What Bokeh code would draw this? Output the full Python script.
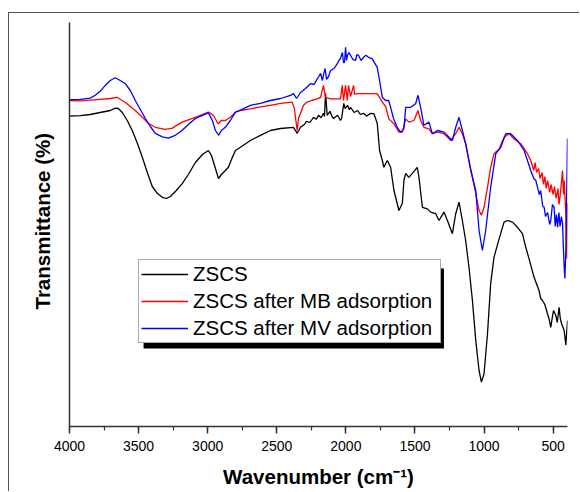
from bokeh.plotting import figure
from bokeh.models import (Range1d, SingleIntervalTicker, FixedTicker, Legend, LegendItem,
                          BoxAnnotation, Title)
from bokeh.embed import file_html
from bokeh.resources import INLINE

# ---- data ----
zscs_wn = [4000, 3922, 3850, 3778, 3705, 3669, 3647, 3618, 3582, 3546, 3509, 3473, 3437, 3401,
           3365, 3328, 3299, 3270, 3227, 3183, 3140, 3089, 3038, 2995, 2973, 2951, 2922, 2901,
           2872, 2850, 2821, 2799, 2763, 2691, 2618, 2546, 2473,
           2379, 2352, 2328, 2300, 2285, 2260, 2234, 2215, 2198, 2180, 2162, 2155, 2147, 2135,
           2115, 2100, 2089, 2060, 2039, 2030, 2015, 2005, 1988, 1975, 1966, 1940, 1915, 1895,
           1872, 1850, 1821, 1797,
           1773, 1756, 1736, 1725, 1700, 1676, 1652, 1616, 1591, 1580, 1567, 1544, 1519, 1483,
           1471, 1446, 1410, 1386, 1350, 1326, 1290, 1265, 1229, 1205, 1181, 1157, 1133, 1109,
           1084, 1060, 1036, 1019, 1000, 975, 952, 928, 891, 855, 831, 794, 758, 722, 698, 674,
           638,
           602, 590, 577, 560, 541, 530, 517, 505, 497, 481, 470, 457, 448, 439, 420, 408, 396]
zscs_t = [77.6, 77.7, 78.0, 78.5, 79.0, 79.6, 79.5, 78.5, 76.5, 74.0, 70.8, 67.3, 63.5, 60.0,
          58.3, 57.3, 57.0, 57.5, 59.0, 60.8, 63.0, 66.0, 68.0, 69.0, 67.8, 65.3, 62.0, 63.0,
          64.0, 64.8, 67.3, 69.0, 69.8, 71.5, 72.8, 74.0, 74.5,
          74.8, 73.3, 74.8, 75.5, 76.3, 76.0, 77.3, 76.8, 77.8, 77.2, 78.3, 77.5, 83.3, 77.8,
          78.8, 77.5, 77.0, 77.8, 76.5, 77.2, 80.8, 79.5, 80.3, 79.2, 79.8, 78.5, 79.0, 78.0,
          78.3, 77.6, 78.3, 78.2,
          75.8, 69.0, 66.5, 64.8, 66.5, 64.8, 59.0, 54.0, 55.8, 61.5, 63.3, 62.3, 63.3, 64.8,
          62.3, 54.8, 54.4, 53.6, 53.2, 51.5, 53.6, 51.5, 48.2, 53.2, 56.1, 51.5, 46.5, 39.8,
          31.5, 21.5, 14.0, 11.1, 13.2, 23.2, 35.7, 42.3, 46.9, 51.1, 51.5, 51.1, 49.8, 48.2,
          44.8, 41.9, 37.3,
          34.0, 32.0, 31.5, 30.5, 28.2, 27.0, 24.8, 27.5, 29.0, 27.8, 26.0, 29.8, 27.0, 25.7,
          24.0, 20.3, 26.5]

mb_wn = [4000, 3922, 3850, 3778, 3705, 3657, 3633, 3596, 3524, 3473, 3430, 3379, 3307, 3256,
         3186, 3089, 2995, 2959, 2925, 2901, 2872, 2836, 2799, 2763, 2691, 2618, 2546, 2473,
         2389, 2372, 2365, 2352, 2343, 2328, 2307, 2280, 2249, 2207, 2183, 2162, 2147, 2111,
         2039, 2026, 2017, 2002, 1990, 1981, 1966, 1944, 1937, 1917, 1857, 1773, 1736, 1712,
         1689, 1652, 1616, 1591, 1567, 1544, 1507, 1478, 1459, 1435, 1399, 1374, 1338, 1290,
         1241, 1205, 1181, 1157, 1133, 1109, 1084, 1060, 1036, 1019, 1000, 975, 952, 928, 891,
         855, 819, 783, 734,
         686, 662, 640, 630, 620, 605, 595, 580, 570, 560, 550, 540, 525, 515, 500, 490, 478,
         465, 457, 448, 439, 432, 425, 420, 408, 401, 396]
mb_t = [81.5, 81.4, 81.6, 81.8, 82.0, 82.3, 81.8, 81.0, 79.0, 77.3, 75.8, 74.8, 74.3, 74.6,
        76.1, 77.3, 78.6, 77.8, 75.7, 76.5, 76.5, 77.3, 78.6, 79.0, 79.4, 79.9, 80.3, 80.8,
        81.1, 79.5, 77.3, 74.0, 77.0, 78.3, 80.3, 81.1, 81.5, 81.9, 82.3, 85.3, 82.3, 81.9,
        81.9, 85.3, 81.5, 85.3, 81.5, 85.3, 82.5, 85.3, 83.0, 83.2, 83.2, 83.2, 81.1, 80.0,
        76.9, 75.7, 73.6, 73.6, 76.9, 76.1, 76.5, 79.0, 76.5, 74.8, 74.4, 73.2, 73.6, 73.2,
        71.5, 73.2, 74.8, 73.2, 70.7, 66.5, 62.3, 58.2, 54.0, 52.8, 54.8, 59.8, 64.8, 68.2, 69.4,
        72.3, 73.2, 71.9, 70.7,
        68.2, 66.5, 64.0, 66.0, 63.5, 64.5, 62.0, 63.5, 60.5, 62.5, 59.5, 61.5, 58.5, 60.5,
        58.0, 60.0, 57.0, 59.5, 55.5, 58.0, 61.5, 64.0, 58.0, 61.5, 53.2, 42.0, 55.8]

mv_wn = [4000, 3922, 3850, 3814, 3778, 3741, 3705, 3669, 3633, 3596, 3560, 3524, 3488, 3451,
         3415, 3379, 3328, 3285, 3234, 3186, 3140, 3089, 3038, 2995, 2966, 2944, 2920, 2901,
         2872, 2836, 2799, 2763, 2691, 2618, 2546, 2473, 2401, 2379, 2357, 2328, 2292,
         2256, 2230, 2207, 2195, 2183, 2170, 2160, 2150, 2140, 2125, 2111, 2085, 2062, 2050,
         2039, 2025, 2017, 2010, 2002, 1995, 1988, 1978, 1966, 1950, 1930, 1920, 1908, 1890,
         1872, 1855, 1836, 1809,
         1773, 1756, 1736, 1712, 1691, 1676, 1655, 1628, 1604, 1580, 1567, 1531, 1495, 1478,
         1459, 1435, 1399, 1374, 1338, 1290, 1229, 1205, 1181, 1157, 1133, 1096, 1060, 1036,
         1012, 988, 952, 915, 879, 843, 807, 758, 710,
         662, 640, 625, 613, 600, 590, 575, 565, 555, 540, 525, 517, 505, 493, 485, 476, 468,
         458, 450, 440, 432, 425, 420, 415, 408, 396]
mv_t = [81.7, 81.8, 82.1, 82.8, 83.8, 85.3, 86.5, 87.2, 86.5, 85.7, 84.0, 81.5, 79.3, 77.0,
        75.0, 73.3, 72.4, 72.1, 72.8, 74.0, 75.5, 77.0, 77.8, 78.4, 76.5, 74.0, 72.8, 74.0,
        74.8, 76.5, 78.6, 79.1, 80.3, 80.8, 81.5, 82.0, 82.8, 83.2, 82.0, 83.5, 84.5,
        85.7, 85.5, 86.9, 87.5, 88.3, 86.5, 88.2, 89.5, 86.8, 87.5, 89.0, 89.5, 90.7, 91.5,
        92.0, 93.5, 91.0, 91.0, 94.8, 91.5, 92.8, 93.5, 92.8, 91.8, 91.5, 93.0, 92.8, 91.5,
        92.3, 92.8, 92.3, 91.9,
        89.8, 86.5, 82.3, 81.5, 81.5, 79.8, 77.0, 74.8, 73.6, 74.4, 79.8, 79.8, 80.7, 82.8,
        79.8, 75.3, 76.1, 73.2, 74.0, 73.6, 71.5, 74.8, 77.3, 74.0, 70.7, 64.0, 59.0, 49.0,
        44.0, 49.0, 59.8, 68.2, 69.8, 73.2, 73.2, 71.5, 69.0,
        64.0, 62.0, 61.5, 59.8, 58.0, 59.0, 55.0, 54.8, 52.5, 53.5, 50.5, 51.5, 55.5, 54.8,
        50.0, 53.0, 49.8, 53.5, 50.0, 52.5, 50.8, 44.0, 39.8, 37.0, 44.0, 72.0]

series_labels = ["ZSCS", "ZSCS after MB adsorption", "ZSCS after MV adsorption"]
x_title = "Wavenumber (cm⁻¹)"
y_title = "Transmittance (%)"
x_ticks_interval = 500

assert len(zscs_wn) == len(zscs_t)
assert len(mb_wn) == len(mb_t)
assert len(mv_wn) == len(mv_t)

FONT = "Liberation Sans"

p = figure(width=571, height=479, output_backend="svg", toolbar_location=None,
           x_range=Range1d(4000, 396), y_range=Range1d(0, 101),
           min_border_left=60, min_border_right=13, min_border_top=9, min_border_bottom=66)
p.margin = (12, 0, 0, 8)
p.styles = {"border-top": "1px solid #555555", "border-left": "1px solid #555555"}

p.outline_line_color = None
p.xgrid.visible = False
p.ygrid.visible = False
p.background_fill_color = "white"
p.border_fill_color = "white"

# x axis
xa = p.xaxis[0]
xa.ticker = SingleIntervalTicker(interval=x_ticks_interval, num_minor_ticks=2)
xa.axis_label = x_title
xa.axis_label_text_font = FONT
xa.axis_label_text_font_style = "bold"
xa.axis_label_text_font_size = "20.5px"
xa.axis_label_text_color = "black"
xa.axis_label_standoff = 11
xa.major_label_text_font = FONT
xa.major_label_text_font_size = "14px"
xa.major_label_text_color = "black"
xa.major_label_standoff = 7
xa.major_tick_out = 7
xa.major_tick_in = 0
xa.minor_tick_out = 4
xa.minor_tick_in = 0
xa.axis_line_color = "#333333"
xa.axis_line_width = 1.5
xa.major_tick_line_color = "#333333"
xa.minor_tick_line_color = "#333333"
xa.major_tick_line_width = 1.5
xa.minor_tick_line_width = 1.2

# y axis: line only
ya = p.yaxis[0]
ya.ticker = FixedTicker(ticks=[])
ya.major_label_standoff = 0
ya.major_tick_out = 0
ya.major_tick_in = 0
ya.minor_tick_out = 0
ya.minor_tick_in = 0
ya.major_tick_line_color = None
ya.minor_tick_line_color = None
ya.axis_line_color = "#333333"
ya.axis_line_width = 1.5

# y title placed as a side title (a little above centre, as in the reference)
ytitle = Title(text=y_title, align="left", offset=117, standoff=31,
               text_font=FONT, text_font_style="bold", text_font_size="20.5px",
               text_color="black")
p.add_layout(ytitle, "left")

r1 = p.line(zscs_wn, zscs_t, line_color="#000000", line_width=1.3)
r2 = p.line(mb_wn, mb_t, line_color="#ff0000", line_width=1.3)
r3 = p.line(mv_wn, mv_t, line_color="#0000ff", line_width=1.3)

# legend shadow
shadow = BoxAnnotation(left=3464, right=1290, top=39.5, bottom=19.5,
                       fill_color="black", fill_alpha=1.0, line_color=None)
p.add_layout(shadow)

legend = Legend(items=[LegendItem(label=series_labels[0], renderers=[r1]),
                       LegendItem(label=series_labels[1], renderers=[r2]),
                       LegendItem(label=series_labels[2], renderers=[r3])],
                location=(69, 83))
legend.label_text_font = FONT
legend.label_text_font_size = "20.5px"
legend.label_text_color = "black"
legend.label_standoff = 5
legend.label_width = 245
legend.glyph_width = 47
legend.glyph_height = 24
legend.label_height = 24
legend.spacing = 3
legend.padding = 2
legend.margin = 0
legend.border_line_color = "#555555"
legend.border_line_width = 1
legend.background_fill_color = "white"
legend.background_fill_alpha = 1.0
p.add_layout(legend)

open("out.html", "w").write(file_html(p, INLINE))
